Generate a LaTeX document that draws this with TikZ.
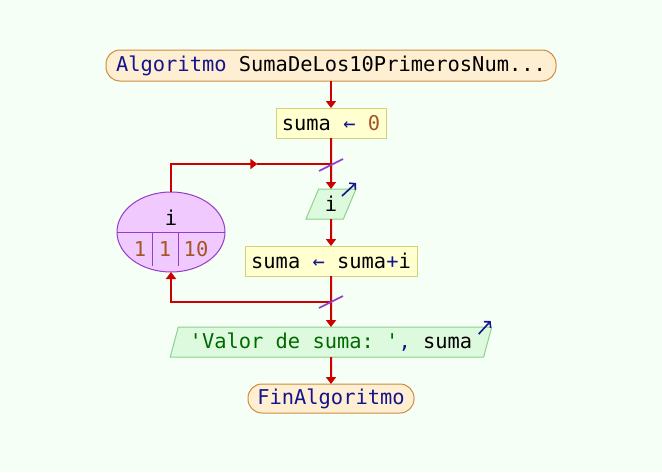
\documentclass[tikz,border=0pt]{standalone}
\usepackage{fontspec}
\setmonofont{DejaVu Sans Mono}
\usetikzlibrary{shapes, arrows.meta, positioning, calc}
\usepackage{xcolor}
\definecolor{PageMint}{RGB}{245,255,246}
\definecolor{FlowRed}{RGB}{204,0,0}
\definecolor{KeyBlue}{RGB}{20,20,140}
\definecolor{NumBrown}{RGB}{165,85,35}
\definecolor{StrGreen}{RGB}{0,105,0}
\definecolor{TermFill}{RGB}{255,239,210}
\definecolor{TermEdge}{RGB}{205,140,60}
\definecolor{ProcFill}{RGB}{255,255,208}
\definecolor{ProcEdge}{RGB}{210,210,120}
\definecolor{IOFill}{RGB}{222,250,222}
\definecolor{IOEdge}{RGB}{140,210,140}
\definecolor{LoopFill}{RGB}{240,202,255}
\definecolor{LoopEdge}{RGB}{150,60,200}

\begin{document}
\begin{tikzpicture}[
          x=1pt, y=-1pt,
          font=\fontsize{20.4}{24}\selectfont\ttfamily,
          terminal/.style={rectangle, rounded corners=14pt, draw=TermEdge, line width=1pt, fill=TermFill, inner sep=0pt, outer sep=0pt, minimum height=30pt},
          process/.style={rectangle, draw=ProcEdge, line width=1pt, fill=ProcFill, inner sep=0pt, outer sep=0pt, minimum height=30pt},
          io/.style={trapezium, trapezium left angle=68, trapezium right angle=112, trapezium stretches=true, draw=IOEdge, line width=1pt, fill=IOFill, inner sep=0pt, outer sep=0pt, minimum height=30pt},
          loopnode/.style={ellipse, draw=LoopEdge, line width=1pt, fill=LoopFill, minimum width=108pt, minimum height=80pt, inner sep=0pt, outer sep=0pt},
          flow/.style={draw=FlowRed, line width=2pt, -{Triangle[width=10pt,length=7pt]}},
          plain/.style={draw=FlowRed, line width=2pt},
          cut/.style={draw=LoopEdge, line width=1.6pt},
          shown/.style={draw=KeyBlue, line width=1.6pt, -{Straight Barb[length=4pt,width=9pt]}}
        ]
          \fill[PageMint] (0,0) rectangle (662,472);

          \node (start) [terminal, minimum width=450pt, minimum height=31pt] at (331,65.5) {\textcolor{KeyBlue}{Algoritmo} SumaDeLos10PrimerosNum...};
          \node (init) [process, minimum width=110pt, below=27pt of start] {suma \textcolor{KeyBlue}{←} \textcolor{NumBrown}{0}};
          \node (read) [io, minimum width=50pt, below=51pt of init] {i};
          \node (body) [process, minimum width=172pt, below=27pt of read] {suma \textcolor{KeyBlue}{←} suma\textcolor{KeyBlue}{+}i};
          \node (out) [io, minimum width=322pt, below=51pt of body] {\textcolor{StrGreen}{'Valor de suma: '}\textcolor{KeyBlue}{,} suma};
          \node (stop) [terminal, minimum width=166pt, minimum height=29pt, below=27pt of out] {\textcolor{KeyBlue}{FinAlgoritmo}};

          % para loop
          \node (loop) [loopnode] at (171,232) {};
          \draw[LoopEdge, line width=1pt] (loop.west) -- (loop.east);
          \draw[LoopEdge, line width=1pt] (152,232) -- (152,266);
          \draw[LoopEdge, line width=1pt] (178,232) -- (178,266);
          \node (loopvar) [anchor=base] at (171,225) {i};
          \node (loopfrom) [anchor=base, text=NumBrown] at (140,256) {1};
          \node (loopstep) [anchor=base, text=NumBrown] at (165,256) {1};
          \node (loopto) [anchor=base, text=NumBrown] at (196,256) {10};

          \coordinate (j1) at ($(init.south)!0.5!(read.north)+(0,0.5)$);
          \coordinate (j2) at ($(body.south)!0.5!(out.north)+(0,0.5)$);
          \coordinate (c1) at (loop.north |- j1);
          \coordinate (c2) at (loop.south |- j2);
          \coordinate (mid) at ($(c1)!0.54!(j1)$);

          \draw[flow] (start) -- (init);
          \draw[flow] (init) -- (read);
          \draw[flow] (read) -- (body);
          \draw[flow] (body) -- (out);
          \draw[flow] (out) -- (stop);
          \draw[flow] (loop.north) -- (c1) -- (mid);
          \draw[plain] (mid) -- (j1);
          \draw[flow] (j2) -- (c2) -- (loop.south);

          \draw[cut] ($(j1)+(-12,7)$) -- ($(j1)+(12,-5)$);
          \draw[cut] ($(j2)+(-12,6)$) -- ($(j2)+(12,-6)$);

          \draw[shown] ($(read.top right corner)+(-14,7)$) -- ($(read.top right corner)+(0,-6)$);
          \draw[shown] ($(out.top right corner)+(-13,7)$) -- ($(out.top right corner)+(-1,-6)$);
        \end{tikzpicture}
\end{document}
